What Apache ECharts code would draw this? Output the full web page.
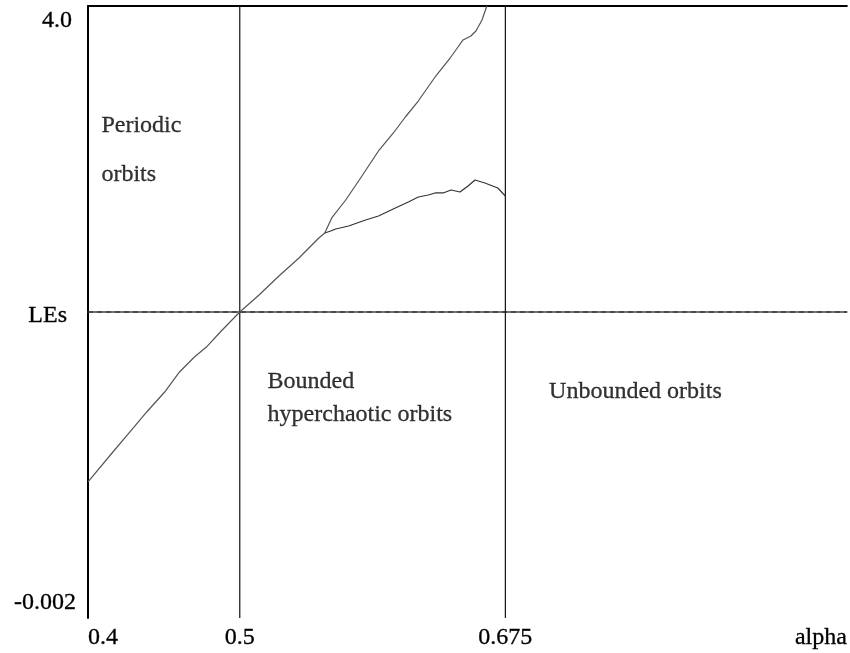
<!DOCTYPE html>
<html>
<head>
<meta charset="utf-8">
<script src="https://cdn.jsdelivr.net/npm/echarts@6/dist/echarts.min.js"></script>
<style>
  html, body { margin: 0; padding: 0; background: #fff; }
  #chart { width: 850px; height: 653px; }
</style>
</head>
<body>
<div id="chart"></div>
<script>
// x = alpha, y = LEs (plot units, 0 = dashed line)
var xTickValues = [0.4, 0.5, 0.675, 0.9]
var xTickLabels = ['0.4', '0.5', '0.675', 'alpha']
var yTickValues = [-4, 0, 4]
var yTickLabels = ['-0.002', 'LEs', '4.0']
var regionLines = [0.5, 0.675]

// lower-left part, shared by both exponents
var leftAlpha = [0.4, 0.4164, 0.4275, 0.4387, 0.4505, 0.4603, 0.4701, 0.478, 0.4878, 0.5, 0.5127, 0.5258, 0.539, 0.5521, 0.556]
var leftLE    = [-2.222, -1.83, -1.569, -1.307, -1.046, -0.784, -0.588, -0.458, -0.248, 0, 0.222, 0.471, 0.706, 0.967, 1.033]

// upper branch (leaves the top near 0.663)
var upperAlpha = [0.556, 0.5606, 0.5698, 0.5783, 0.5914, 0.6012, 0.6091, 0.6176, 0.6287, 0.6386, 0.6438, 0.6471, 0.6523, 0.6556, 0.6596, 0.6628]
var upperLE    = [1.033, 1.229, 1.464, 1.712, 2.105, 2.34, 2.549, 2.758, 3.072, 3.32, 3.464, 3.556, 3.608, 3.673, 3.817, 4.0]

// lower branch (ends at 0.675)
var lowerAlpha = [0.556, 0.5599, 0.5632, 0.5717, 0.5829, 0.5914, 0.6025, 0.6111, 0.6176, 0.6242, 0.6287, 0.634, 0.6392, 0.6451, 0.6504, 0.655, 0.6615, 0.67, 0.675]
var lowerLE    = [1.033, 1.059, 1.085, 1.124, 1.203, 1.255, 1.359, 1.438, 1.503, 1.529, 1.556, 1.556, 1.595, 1.569, 1.647, 1.725, 1.686, 1.621, 1.516]

var noteTexts = ['Periodic', 'orbits', 'Bounded', 'hyperchaotic orbits', 'Unbounded orbits']
var noteAlpha = [0.4085, 0.4085, 0.518, 0.518, 0.7035]
var noteLE    = [2.43, 1.8, -0.915, -1.345, -1.045]

const zip = (xs, ys) => xs.map((x, i) => [x, ys[i]])
const serif = '"Liberation Serif", "DejaVu Serif", serif'
const inkText = {color: '#000', fontFamily: serif, fontSize: 24, textBorderColor: '#000', textBorderWidth: 0.3}

var chart = echarts.init(document.getElementById('chart'), null, {renderer: 'canvas'})

var guideSeries = regionLines.map(a => ({
    type: 'line',
    data: [[a, -4], [a, 4]],
    symbol: 'none',
    silent: true,
    lineStyle: {color: '#111', width: 1.2}
}))
guideSeries.push({
    type: 'line',
    data: [[0.4, 0], [0.9, 0]],
    symbol: 'none',
    silent: true,
    lineStyle: {color: '#222', width: 1, type: [5, 4]}
})

var option = {
    animation: false,
    backgroundColor: '#fff',
    grid: {left: 88, right: 0, top: 6, bottom: 35},
    xAxis: [
        {
            type: 'value',
            min: 0.4,
            max: 0.9,
            splitLine: {show: false},
            axisTick: {show: false},
            axisLine: {lineStyle: {color: '#444', width: 1.5}},
            axisLabel: Object.assign({
                customValues: xTickValues,
                formatter: v => xTickLabels[xTickValues.indexOf(v)],
                alignMinLabel: 'left',
                alignMaxLabel: 'right',
                margin: 8
            }, inkText)
        },
        {
            type: 'value',
            position: 'top',
            min: 0.4,
            max: 0.9,
            splitLine: {show: false},
            axisTick: {show: false},
            axisLabel: {show: false},
            axisLine: {show: true, lineStyle: {color: '#000', width: 2}}
        }
    ],
    yAxis: {
        type: 'value',
        min: -4,
        max: 4,
        splitLine: {show: false},
        axisTick: {show: false},
        axisLine: {show: true, lineStyle: {color: '#000', width: 2}},
        axisLabel: Object.assign({
            customValues: yTickValues,
            formatter: v => {
                let i = yTickValues.indexOf(v)
                return ['{a|', '{b|', '{c|'][i] + yTickLabels[i] + '}'
            },
            verticalAlignMinLabel: 'bottom',
            verticalAlignMaxLabel: 'top',
            margin: 12,
            rich: {
                a: Object.assign({padding: [0, 0, 3, 0]}, inkText),
                b: Object.assign({padding: [7, 9, 0, 0]}, inkText),
                c: Object.assign({padding: [3, 4, 0, 0]}, inkText)
            }
        }, inkText)
    },
    series: guideSeries.concat([
        {
            type: 'line',
            data: zip(leftAlpha, leftLE),
            symbol: 'none',
            lineStyle: {color: '#555', width: 1.2}
        },
        {
            type: 'line',
            data: zip(upperAlpha, upperLE),
            symbol: 'none',
            lineStyle: {color: '#555', width: 1.2}
        },
        {
            type: 'line',
            data: zip(lowerAlpha, lowerLE),
            symbol: 'none',
            lineStyle: {color: '#333', width: 1.2}
        },
        {
            type: 'scatter',
            silent: true,
            symbolSize: 1,
            itemStyle: {color: 'rgba(0,0,0,0)'},
            data: noteTexts.map((t, i) => [noteAlpha[i], noteLE[i], t]),
            label: Object.assign({
                show: true,
                position: 'right',
                distance: 0,
                formatter: p => p.data[2]
            }, inkText)
        }
    ])
}

chart.setOption(option)
</script>
</body>
</html>
